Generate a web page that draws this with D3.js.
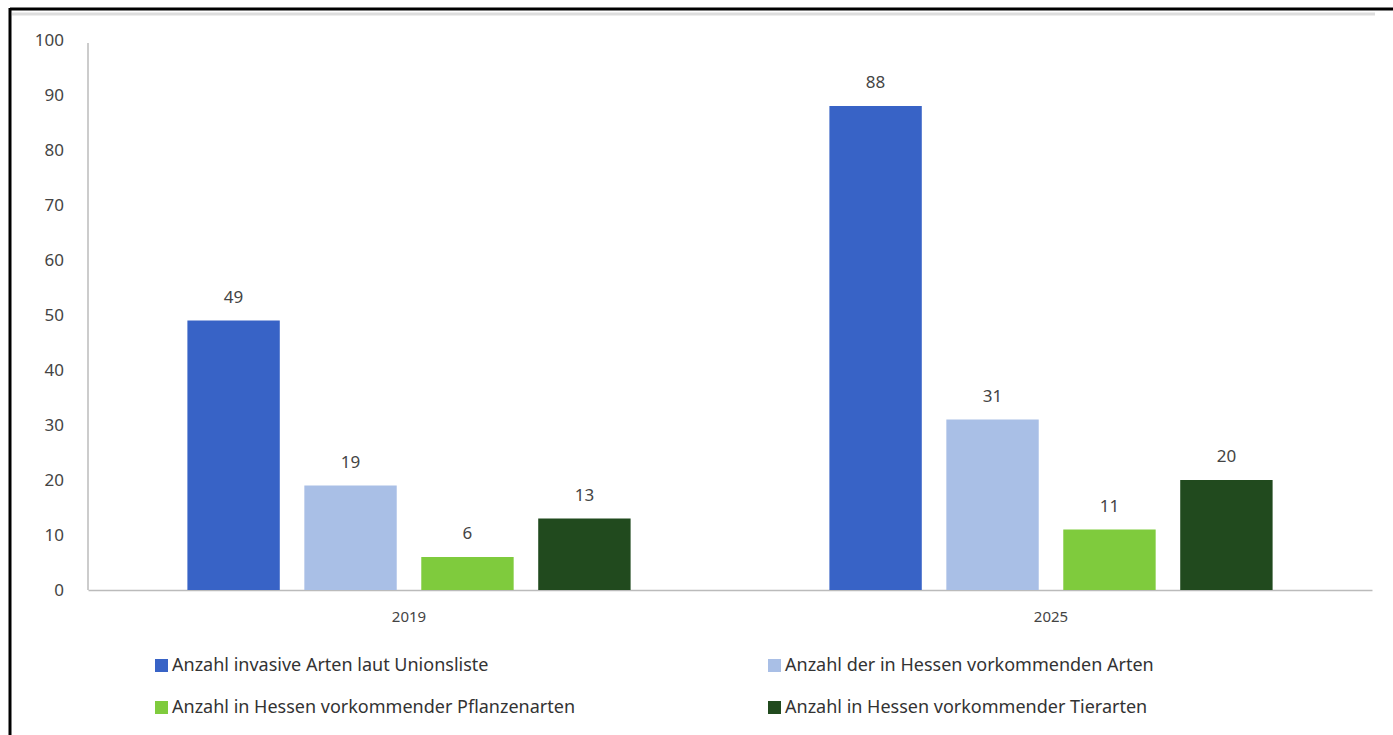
<!DOCTYPE html>
<html>
<head>
<meta charset="utf-8">
<script src="https://cdn.jsdelivr.net/npm/d3@7"></script>
<style>
  body { margin: 0; background: #fff; }
  svg text { font-family: "Noto Sans", sans-serif; }
</style>
</head>
<body>
<div id="chart"></div>
<script>
const years = ["2019", "2025"]
const seriesNames = [
    "Anzahl invasive Arten laut Unionsliste",
    "Anzahl der in Hessen vorkommenden Arten",
    "Anzahl in Hessen vorkommender Pflanzenarten",
    "Anzahl in Hessen vorkommender Tierarten"
]
const values2019 = [49, 19, 6, 13]
const values2025 = [88, 31, 11, 20]
const colors = ["#3863c6", "#a9bfe6", "#7fcb3d", "#214a1e"]
const yTicks = [0, 10, 20, 30, 40, 50, 60, 70, 80, 90, 100]

const W = 1393, H = 735
const plot = {left: 88, right: 1372, top: 40, bottom: 590}

const svg = d3.select("#chart").append("svg")
    .attr("width", W)
    .attr("height", H)

// frame (picture is cropped on right and bottom)
svg.append("line").attr("x1", 10).attr("x2", W).attr("y1", 9).attr("y2", 9)
    .attr("stroke", "#000").attr("stroke-width", 3)
svg.append("line").attr("x1", 10).attr("x2", 10).attr("y1", 8).attr("y2", H)
    .attr("stroke", "#000").attr("stroke-width", 3)
svg.append("line").attr("x1", 12).attr("x2", 1375).attr("y1", 14).attr("y2", 14)
    .attr("stroke", "#ddd").attr("stroke-width", 3)

const x0 = d3.scaleBand()
    .domain(years)
    .range([plot.left, plot.right])

const x1 = d3.scaleBand()
    .domain(d3.range(seriesNames.length))
    .range([0, x0.bandwidth()])
    .paddingInner(0.21)
    .paddingOuter(0.85)

const y = d3.scaleLinear()
    .domain([0, 100])
    .range([plot.bottom, plot.top])

const yAxis = svg.append("g")
    .attr("transform", `translate(${plot.left - 24}, 0)`)
    .call(d3.axisLeft(y).tickValues(yTicks).tickSize(0).tickPadding(0))
yAxis.select(".domain").remove()
yAxis.selectAll("text").attr("font-size", 17).attr("fill", "#444")

svg.append("line")
    .attr("x1", plot.left).attr("x2", plot.left)
    .attr("y1", y(100) + 3).attr("y2", plot.bottom)
    .attr("stroke", "#bbb").attr("stroke-width", 1.5)

const xAxis = svg.append("g")
    .attr("transform", `translate(0, ${plot.bottom})`)
    .call(d3.axisBottom(x0).tickSize(0).tickPadding(21))
xAxis.select(".domain").attr("stroke", "#bbb").attr("stroke-width", 1.5)
xAxis.selectAll("text").attr("font-size", 15).attr("fill", "#444")

const groups = svg.selectAll("g.year")
    .data([values2019, values2025])
    .join("g")
        .attr("class", "year")
        .attr("transform", (d, i) => `translate(${x0(years[i])}, 0)`)

groups.selectAll("rect")
    .data(d => d)
    .join("rect")
        .attr("x", (d, i) => x1(i))
        .attr("y", d => y(d))
        .attr("width", x1.bandwidth())
        .attr("height", d => y(0) - y(d))
        .attr("fill", (d, i) => colors[i])

groups.selectAll("text.val")
    .data(d => d)
    .join("text")
        .attr("class", "val")
        .attr("x", (d, i) => x1(i) + x1.bandwidth() / 2)
        .attr("y", d => y(d) - 18)
        .attr("text-anchor", "middle")
        .attr("font-size", 17)
        .attr("fill", "#444")
        .text(d => d)

// legend, two columns
const legendPos = [[155, 665], [768, 665], [155, 707], [768, 707]]
const legend = svg.selectAll("g.legend")
    .data(seriesNames)
    .join("g")
        .attr("class", "legend")
        .attr("transform", (d, i) => `translate(${legendPos[i][0]}, ${legendPos[i][1]})`)

legend.append("rect")
    .attr("x", 0).attr("y", -6)
    .attr("width", 13).attr("height", 13)
    .attr("fill", (d, i) => colors[i])

legend.append("text")
    .attr("x", 17)
    .attr("dy", "0.35em")
    .attr("font-size", 18)
    .attr("fill", "#333")
    .text(d => d)
</script>
</body>
</html>
